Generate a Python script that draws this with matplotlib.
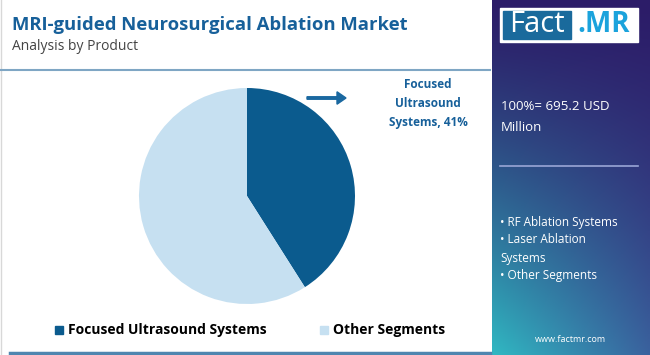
import numpy as np
import matplotlib.pyplot as plt
from matplotlib.patches import Rectangle, FancyArrow
from matplotlib.lines import Line2D

plt.rcParams['font.family'] = ['Open Sans', 'DejaVu Sans']

labels = ['Focused Ultrasound Systems', 'Other Segments']
shares = [41, 59]
colors = ['#0b5b8e', '#c6e0f1']
total_label = '100%= 695.2 USD\nMillion'
other_products = ['• RF Ablation Systems', '• Laser Ablation\nSystems', '• Other Segments']

W, H = 650, 355
fig = plt.figure(figsize=(6.5, 3.55), dpi=100, facecolor='white')


def fx(x):
    return x / W


def fy(y):
    return 1 - y / H


# right panel gradient
grad_ax = fig.add_axes([fx(492), 0, fx(W - 492), 1])
ny, nx = 200, 60
yy, xx = np.mgrid[0:1:ny * 1j, 0:1:nx * 1j]
top = np.array([0x2c, 0x1c, 0x68]) / 255
bl = np.array([0x30, 0xb8, 0xc2]) / 255
br = np.array([0x3a, 0x62, 0x9e]) / 255
bottom = bl[None, :] * (1 - xx[..., None]) + br[None, :] * xx[..., None]
t = (yy[..., None]) ** 1.3
img = top * (1 - t) + bottom * t
grad_ax.imshow(img, aspect='auto', extent=[0, 1, 1, 0])
grad_ax.set_xlim(0, 1)
grad_ax.set_ylim(1, 0)
grad_ax.axis('off')

# frame lines of left panel
fig.add_artist(Line2D([fx(1), fx(1)], [fy(0), fy(355)], color='#d8d8d8', lw=1))
fig.add_artist(Line2D([fx(0), fx(490)], [fy(70), fy(70)], color='#7fa6c4', lw=1.5))
fig.add_artist(Line2D([fx(10), fx(490)], [fy(353), fy(353)], color='#4f86b0', lw=2.5))

# title
fig.text(fx(12), fy(25), 'MRI-guided Neurosurgical Ablation Market', fontsize=13.3,
         fontweight='bold', color='#17609a', va='center')
fig.text(fx(12), fy(46), 'Analysis by Product', fontsize=10, color='#444444', va='center')

# pie
pie_ax = fig.add_axes([fx(139), fy(304), fx(216), 216 / H])
pie_ax.pie(shares, colors=colors, startangle=90, counterclock=False, radius=1,
           wedgeprops=dict(linewidth=0))
pie_ax.set_xlim(-1, 1)
pie_ax.set_ylim(-1, 1)
pie_ax.set_aspect('equal')

# arrow + label
fig.add_artist(FancyArrow(fx(307), fy(98), fx(30), 0, width=0.007, head_width=0.035,
                          head_length=fx(9), color='#1a68a0', length_includes_head=False,
                          transform=fig.transFigure))
fig.text(fx(428), fy(103), 'Focused\nUltrasound\nSystems, 41%', fontsize=8.5,
         fontweight='bold', color='#17609a', ha='center', va='center', linespacing=1.6)

# legend
fig.add_artist(Rectangle((fx(55), fy(334)), fx(8), 8 / H, color=colors[0], transform=fig.transFigure))
fig.text(fx(68), fy(330), labels[0], fontsize=10, fontweight='bold', color='#000000', va='center')
fig.add_artist(Rectangle((fx(320), fy(334)), fx(8), 8 / H, color=colors[1], transform=fig.transFigure))
fig.text(fx(333), fy(330), labels[1], fontsize=10, fontweight='bold', color='#000000', va='center')

# logo
fig.add_artist(Rectangle((fx(500), fy(42)), fx(138), 34 / H, color='white', transform=fig.transFigure))
fig.add_artist(Rectangle((fx(503), fy(39)), fx(68), 28 / H, color='#1a6a9c', transform=fig.transFigure))
fig.text(fx(537), fy(24), 'Fact', fontsize=21, color='white', ha='center', va='center')
fig.text(fx(604), fy(24), '.MR', fontsize=20, fontweight='bold', color='#1ba3dc', ha='center', va='center')

# right panel texts
fig.text(fx(501), fy(117), total_label, fontsize=9.5, color='white', va='center', linespacing=1.8)
fig.add_artist(Line2D([fx(500), fx(638)], [fy(166), fy(166)], color='#9aa6d6', lw=1.2))
fig.text(fx(500), fy(222), other_products[0], fontsize=8.5, color='white', va='center')
fig.text(fx(500), fy(249), other_products[1], fontsize=8.5, color='white', va='center', linespacing=1.6)
fig.text(fx(500), fy(275), other_products[2], fontsize=8.5, color='white', va='center')
fig.text(fx(570), fy(340), 'www.factmr.com', fontsize=6.5, color='white', ha='center', va='center')

fig.savefig('out.png', dpi=100, facecolor='white')
